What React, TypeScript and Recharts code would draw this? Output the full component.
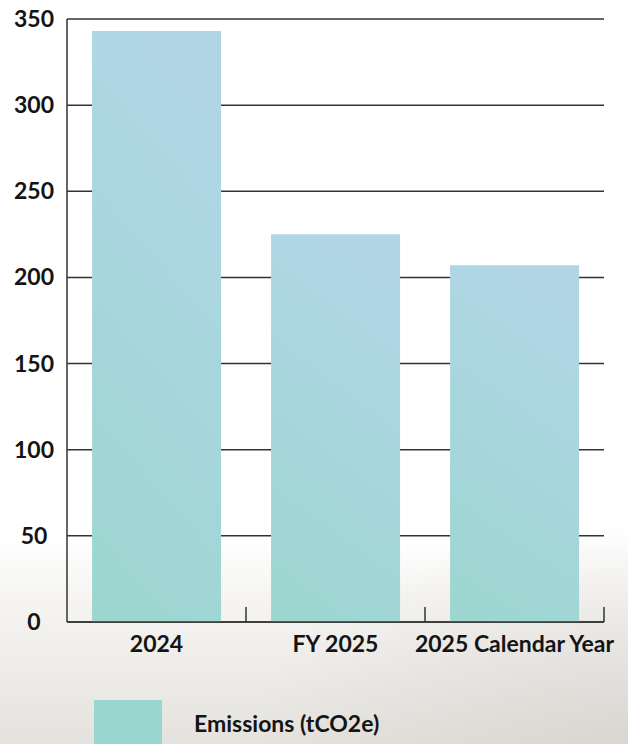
import { BarChart, Bar, XAxis, YAxis, CartesianGrid, Legend } from "recharts";

const periods = ["2024", "FY 2025", "2025 Calendar Year"];
const emissions = [343, 225, 207];
const yTicks = [0, 50, 100, 150, 200, 250, 300, 350];
const seriesName = "Emissions (tCO2e)";

const data = periods.map((period, i) => ({ period, emissions: emissions[i] }));

const FONT = "Lato, 'Open Sans', sans-serif";
const FONT_SIZE = 23;
const INK = "#141414";
const RULE = "#333333";
const SWATCH = "#98d6cf";

// category label plus a short upward tick on the right edge of each band
function PeriodTick(props: any) {
  const { x, y, payload } = props;
  const edge = x + (payload.offset ?? 0);
  return (
    <g>
      <line x1={edge} x2={edge} y1={y - 15} y2={y} stroke={RULE} strokeWidth={1.5} />
      <text
        x={x}
        y={y + 21}
        textAnchor="middle"
        dominantBaseline="central"
        fontFamily={FONT}
        fontWeight={700}
        fontSize={FONT_SIZE}
        fill={INK}
      >
        {payload.value}
      </text>
    </g>
  );
}

function ValueTick(props: any) {
  const { x, y, payload } = props;
  return (
    <text
      x={x - 33}
      y={y - 1}
      textAnchor="middle"
      dominantBaseline="central"
      fontFamily={FONT}
      fontWeight={700}
      fontSize={FONT_SIZE}
      fill={INK}
    >
      {payload.value}
    </text>
  );
}

function SeriesLegend(props: any) {
  const { payload = [] } = props;
  return (
    <div>
      {payload.map((entry: any) => (
        <div key={entry.value} style={{ display: "flex", alignItems: "center" }}>
          <span style={{ width: 68, height: 46, background: SWATCH, display: "inline-block" }} />
          <span
            style={{
              marginLeft: 32,
              fontFamily: FONT,
              fontWeight: 700,
              fontSize: FONT_SIZE,
              color: INK,
              whiteSpace: "nowrap",
            }}
          >
            {entry.value}
          </span>
        </div>
      ))}
    </div>
  );
}

export default function App() {
  return (
    <div
      style={{
        position: "absolute",
        left: 0,
        top: 0,
        width: 628,
        height: 744,
        overflow: "hidden",
        background:
          "radial-gradient(ellipse 60% 30% at 100% 100%, rgba(200,196,190,0.4), rgba(200,196,190,0) 100%), linear-gradient(to bottom, #ffffff 0%, #ffffff 72%, #f6f5f3 80%, #eeedea 89%, #e5e2de 100%)",
      }}
    >
      <BarChart
        width={628}
        height={744}
        data={data}
        margin={{ top: 19, right: 24, bottom: 0, left: 0 }}
        barCategoryGap="14%"
      >
        <defs>
          <linearGradient id="barFill" x1="0" y1="1" x2="0.25" y2="0">
            <stop offset="0%" stopColor="#9cd6cf" />
            <stop offset="100%" stopColor="#b0d6e6" />
          </linearGradient>
        </defs>
        <CartesianGrid vertical={false} stroke={RULE} strokeWidth={1.5} />
        <XAxis
          dataKey="period"
          height={122}
          interval={0}
          axisLine={{ stroke: RULE, strokeWidth: 1.5 }}
          tickLine={false}
          tickSize={0}
          tickMargin={0}
          tick={<PeriodTick />}
        />
        <YAxis
          width={67}
          domain={[0, 350]}
          ticks={yTicks}
          interval={0}
          axisLine={{ stroke: RULE, strokeWidth: 1.5 }}
          tickLine={false}
          tickSize={0}
          tickMargin={0}
          tick={<ValueTick />}
        />
        <Legend
          layout="vertical"
          verticalAlign="middle"
          align="center"
          wrapperStyle={{ left: 94, top: 700, width: 420, height: 46 }}
          content={<SeriesLegend />}
        />
        <Bar dataKey="emissions" name={seriesName} fill="url(#barFill)" isAnimationActive={false} />
      </BarChart>
    </div>
  );
}
